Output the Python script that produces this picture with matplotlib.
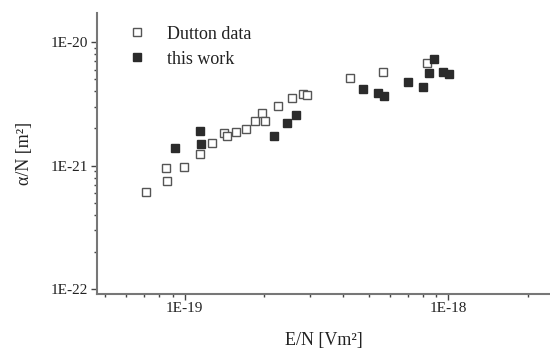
import matplotlib
matplotlib.use("Agg")
import matplotlib.pyplot as plt
from matplotlib.ticker import LogLocator, NullFormatter, FixedLocator, FixedFormatter

# Dutton data (open squares)
dutton_en = [7.15e-20, 8.57e-20, 8.52e-20, 9.9e-20, 1.143e-19, 1.27e-19, 1.406e-19,
             1.444e-19, 1.562e-19, 1.715e-19, 1.845e-19, 1.966e-19, 2.01e-19, 2.26e-19,
             2.556e-19, 2.81e-19, 2.91e-19, 4.23e-19, 5.63e-19, 8.28e-19]
dutton_alpha = [6.16e-22, 7.56e-22, 9.53e-22, 9.8e-22, 1.243e-21, 1.52e-21, 1.83e-21,
                1.74e-21, 1.88e-21, 1.98e-21, 2.30e-21, 2.66e-21, 2.31e-21, 3.04e-21,
                3.51e-21, 3.81e-21, 3.76e-21, 5.1e-21, 5.74e-21, 6.75e-21]

# this work (filled squares)
work_en = [9.19e-20, 1.14e-19, 1.153e-19, 2.19e-19, 2.44e-19, 2.65e-19, 4.76e-19,
           5.42e-19, 5.71e-19, 7.05e-19, 8.04e-19, 8.47e-19, 8.83e-19, 9.57e-19, 1.006e-18]
work_alpha = [1.40e-21, 1.91e-21, 1.50e-21, 1.75e-21, 2.20e-21, 2.59e-21, 4.18e-21,
              3.90e-21, 3.67e-21, 4.79e-21, 4.36e-21, 5.60e-21, 7.27e-21, 5.71e-21, 5.53e-21]

x_ticks = [1e-19, 1e-18]
x_labels = ["1E-19", "1E-18"]
y_ticks = [1e-22, 1e-21, 1e-20]
y_labels = ["1E-22", "1E-21", "1E-20"]

plt.rcParams["font.family"] = ["Liberation Serif", "DejaVu Serif"]

fig = plt.figure(figsize=(5.5, 3.51), dpi=100)
ax = fig.add_axes([0.176, 0.162, 0.824, 0.801])

ax.plot(dutton_en, dutton_alpha, "s", ms=5.8, mfc="white", mec="#555555", mew=1.0,
        label="Dutton data", linestyle="none")
ax.plot(work_en, work_alpha, "s", ms=5.8, mfc="#2b2b2b", mec="#2b2b2b", mew=1.0,
        label="this work", linestyle="none")

ax.set_xscale("log")
ax.set_yscale("log")
ax.set_xlim(4.64e-20, 2.43e-18)
ax.set_ylim(9.14e-23, 1.72e-20)

ax.xaxis.set_major_locator(FixedLocator(x_ticks))
ax.xaxis.set_major_formatter(FixedFormatter(x_labels))
ax.yaxis.set_major_locator(FixedLocator(y_ticks))
ax.yaxis.set_major_formatter(FixedFormatter(y_labels))
ax.xaxis.set_minor_locator(LogLocator(base=10, subs=range(2, 10)))
ax.yaxis.set_minor_locator(LogLocator(base=10, subs=range(2, 10)))
ax.xaxis.set_minor_formatter(NullFormatter())
ax.yaxis.set_minor_formatter(NullFormatter())

for side in ["top", "right"]:
    ax.spines[side].set_visible(False)
for side in ["left", "bottom"]:
    ax.spines[side].set_color("#777777")
    ax.spines[side].set_linewidth(1.5)

ax.tick_params(which="major", direction="out", length=4, width=1.0, color="#444444",
               labelsize=11, labelcolor="#222222", pad=2)
ax.tick_params(which="minor", direction="out", length=2.5, width=1.0, color="#444444")

ax.set_xlabel("E/N [Vm²]", fontsize=13, color="#222222", labelpad=12)
ax.set_ylabel("α/N [m²]", fontsize=13, color="#222222", labelpad=13)

ax.legend(loc="upper left", bbox_to_anchor=(0.04, 1.0), frameon=False, fontsize=13,
          handlelength=1.0, handletextpad=1.2, labelspacing=0.45, borderaxespad=0.3,
          labelcolor="#222222")

fig.savefig("out.png", dpi=100)
